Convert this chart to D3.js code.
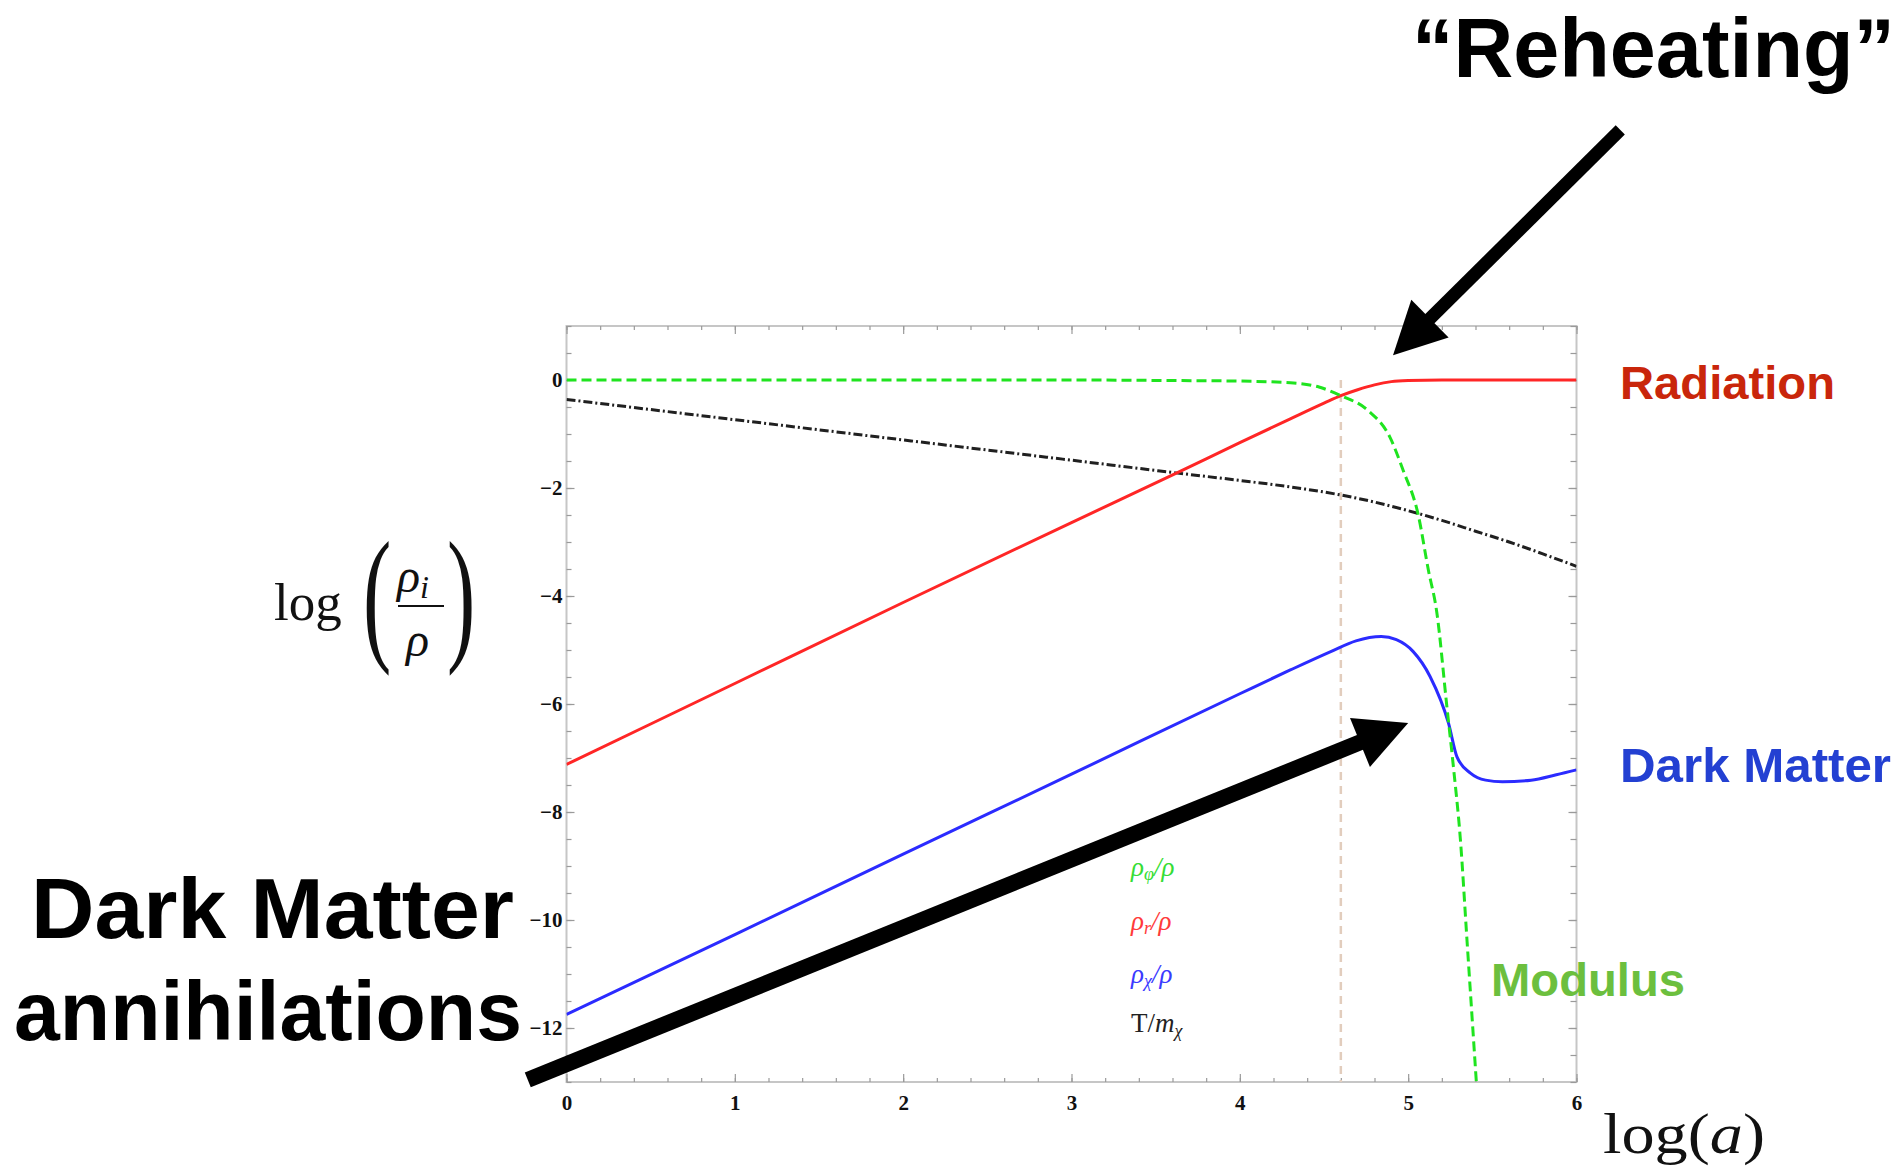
<!DOCTYPE html>
<html>
<head>
<meta charset="utf-8">
<script src="https://cdn.jsdelivr.net/npm/d3@7"></script>
<style>
  body { margin: 0; background: #fff; }
  svg { display: block; }
</style>
</head>
<body>
<svg id="chart"></svg>
<script>
// values, [log(a), log(rho_i/rho)]
const modulus = [[0, 0], [1, 0], [2, 0], [3, 0], [3.6, -0.01], [4.0, -0.02], [4.3, -0.05], [4.47, -0.13], [4.6, -0.29], [4.76, -0.56], [4.89, -1.05], [4.97, -1.67], [5.06, -2.5], [5.12, -3.52], [5.17, -4.3], [5.23, -6.05], [5.27, -7.2], [5.31, -8.5], [5.35, -10.4], [5.405, -13]];
const radiation = [[0, -7.12], [1, -5.62], [2, -4.12], [3, -2.64], [3.62, -1.73], [4, -1.16], [4.3, -0.72], [4.5, -0.43], [4.6, -0.29], [4.7, -0.18], [4.8, -0.09], [4.9, -0.03], [5.0, -0.01], [5.2, 0], [6, 0]];
const darkMatter = [[0, -11.75], [1, -10.27], [2, -8.78], [3, -7.3], [4, -5.81], [4.3, -5.37], [4.54, -5.03], [4.69, -4.83], [4.84, -4.75], [4.93, -4.81], [5.03, -5.03], [5.13, -5.49], [5.24, -6.36], [5.29, -6.98], [5.37, -7.28], [5.46, -7.41], [5.56, -7.44], [5.73, -7.41], [5.88, -7.31], [6, -7.22]];
const temperature = [[0, -0.36], [1, -0.735], [2, -1.11], [3, -1.485], [3.62, -1.72], [4, -1.86], [4.3, -1.98], [4.6, -2.13], [4.8, -2.26], [5.0, -2.42], [5.2, -2.6], [5.4, -2.8], [5.6, -3.0], [5.8, -3.22], [6, -3.45]];
const reheatLogA = 4.6;

const xTicks = [0, 1, 2, 3, 4, 5, 6];
const yTicks = [0, -2, -4, -6, -8, -10, -12];

// arrows, in data units: [log(a), log(rho_i/rho)]
const arrowFrom = [[6.26, 4.63], [-0.23, -12.96]];
const arrowTo = [[4.91, 0.46], [5.0, -6.35]];

const W = 1902, H = 1172;
const svg = d3.select("#chart").attr("width", W).attr("height", H);
svg.append("rect").attr("width", W).attr("height", H).attr("fill", "#fff");

const x = d3.scaleLinear().domain([0, 6]).range([566.5, 1576.5]);
const y = d3.scaleLinear().domain([1, -13]).range([326, 1082]);

svg.append("clipPath").attr("id", "plot")
    .append("rect")
    .attr("x", x(0)).attr("y", y(1))
    .attr("width", x(6) - x(0)).attr("height", y(-13) - y(1));

// frame
svg.append("rect")
    .attr("x", x(0)).attr("y", y(1))
    .attr("width", x(6) - x(0)).attr("height", y(-13) - y(1))
    .attr("fill", "none")
    .attr("stroke", "#c6c6c6")
    .attr("stroke-width", 2);

function styleAxis(g) {
    g.select(".domain").remove();
    g.selectAll("line").attr("stroke", "#9a9a9a").attr("stroke-width", 1.2);
    g.selectAll("text")
        .attr("fill", "#111")
        .style("font-family", "'Liberation Serif', serif")
        .style("font-weight", "bold")
        .style("font-size", "21px");
}

const xMinor = d3.range(0, 6.001, 0.2);
const yMinor = d3.range(-13, 1.001, 0.5);

svg.append("g").attr("transform", `translate(0,${y(-13)})`)
    .call(d3.axisBottom(x).tickValues(xMinor).tickSize(-4).tickFormat(""))
    .call(styleAxis);
svg.append("g").attr("transform", `translate(0,${y(-13)})`)
    .call(d3.axisBottom(x).tickValues(xTicks).tickSize(-8).tickPadding(13).tickFormat(d3.format("d")))
    .call(styleAxis);
svg.append("g").attr("transform", `translate(0,${y(1)})`)
    .call(d3.axisTop(x).tickValues(xMinor).tickSize(-4).tickFormat(""))
    .call(styleAxis);
svg.append("g").attr("transform", `translate(0,${y(1)})`)
    .call(d3.axisTop(x).tickValues(xTicks).tickSize(-8).tickFormat(""))
    .call(styleAxis);

svg.append("g").attr("transform", `translate(${x(0)},0)`)
    .call(d3.axisLeft(y).tickValues(yMinor).tickSize(-5).tickFormat(""))
    .call(styleAxis);
svg.append("g").attr("transform", `translate(${x(0)},0)`)
    .call(d3.axisLeft(y).tickValues(yTicks).tickSize(-8).tickPadding(4).tickFormat(d3.format("d")))
    .call(styleAxis);
svg.append("g").attr("transform", `translate(${x(6)},0)`)
    .call(d3.axisRight(y).tickValues(yMinor).tickSize(-6).tickFormat(""))
    .call(styleAxis);
svg.append("g").attr("transform", `translate(${x(6)},0)`)
    .call(d3.axisRight(y).tickValues(yTicks).tickSize(-8).tickFormat(""))
    .call(styleAxis);

const plot = svg.append("g").attr("clip-path", "url(#plot)");

// reheating marker
plot.append("line")
    .attr("x1", x(reheatLogA)).attr("x2", x(reheatLogA))
    .attr("y1", y(0)).attr("y2", y(-13))
    .attr("stroke", "#e2cdbd")
    .attr("stroke-width", 2.5)
    .attr("stroke-dasharray", "8,6");

const line = d3.line()
    .x(d => x(d[0]))
    .y(d => y(d[1]))
    .curve(d3.curveMonotoneX);

const series = [
    { data: temperature, color: "#202020", dash: "9,3,2,3" },
    { data: radiation, color: "#ff2626", dash: null },
    { data: darkMatter, color: "#2b2bff", dash: null },
    { data: modulus, color: "#1fe41f", dash: "10,5" }
];

series.forEach(s => {
    plot.append("path")
        .datum(s.data)
        .attr("d", line)
        .attr("fill", "none")
        .attr("stroke", s.color)
        .attr("stroke-width", 3)
        .attr("stroke-dasharray", s.dash);
});

// legend inside the frame
const legendRows = [
    { base: "ρ", sub: "φ", tail: "/ρ", color: "#35dd35", italic: true },
    { base: "ρ", sub: "r", tail: "/ρ", color: "#ff3a3a", italic: true },
    { base: "ρ", sub: "χ", tail: "/ρ", color: "#3a3aff", italic: true },
    { base: "T/", sub: "χ", tail: "", color: "#222", italic: false }
];
const legendY = [876, 930, 983, 1032];

legendRows.forEach((r, i) => {
    const t = svg.append("text")
        .attr("x", 1131)
        .attr("y", legendY[i])
        .attr("fill", r.color)
        .style("font-family", "'Liberation Serif', serif")
        .style("font-size", "27px");
    if (r.italic) {
        t.append("tspan").style("font-style", "italic").text(r.base);
        t.append("tspan").style("font-style", "italic").style("font-size", "18px").attr("dy", 4).text(r.sub);
        t.append("tspan").style("font-style", "italic").attr("dy", -4).text(r.tail);
    } else {
        t.append("tspan").text(r.base);
        t.append("tspan").style("font-style", "italic").text("m");
        t.append("tspan").style("font-style", "italic").style("font-size", "18px").attr("dy", 5).text(r.sub);
    }
});

// axis titles
const serif = "'Liberation Serif', serif";
const xt = svg.append("text")
    .attr("x", 1603).attr("y", 1153)
    .attr("textLength", 162)
    .attr("lengthAdjust", "spacingAndGlyphs")
    .style("font-family", serif)
    .style("font-size", "58px")
    .attr("fill", "#111");
xt.append("tspan").text("log(");
xt.append("tspan").style("font-style", "italic").text("a");
xt.append("tspan").text(")");

const yl = svg.append("g").attr("fill", "#111").style("font-family", serif);
yl.append("text").attr("x", 274).attr("y", 620).style("font-size", "53px").text("log");
yl.append("text")
    .attr("transform", "translate(363,643.6) scale(1,1.75)")
    .style("font-size", "85px").text("(");
yl.append("text")
    .attr("transform", "translate(447,643.6) scale(1,1.75)")
    .style("font-size", "85px").text(")");
const num = yl.append("text").attr("x", 397).attr("y", 592).style("font-size", "48px").style("font-style", "italic");
num.append("tspan").text("ρ");
num.append("tspan").attr("dy", 6).style("font-size", "32px").text("i");
yl.append("line")
    .attr("x1", 398).attr("x2", 444).attr("y1", 606).attr("y2", 606)
    .attr("stroke", "#111").attr("stroke-width", 2);
yl.append("text").attr("x", 406).attr("y", 656).style("font-size", "48px").style("font-style", "italic").text("ρ");

// annotations
const sans = "'Liberation Sans', Arial, sans-serif";
const notes = [
    { text: "“Reheating”", x: 1412, y: 77, size: 83, len: 483, color: "#000" },
    { text: "Radiation", x: 1620, y: 399, size: 47, len: 215, color: "#c9260b" },
    { text: "Dark Matter", x: 1620, y: 782, size: 48, len: 271, color: "#2340d2" },
    { text: "Modulus", x: 1491, y: 996, size: 47, len: 194, color: "#6cbf3e" },
    { text: "Dark Matter", x: 31, y: 938, size: 86, len: 483, color: "#000" },
    { text: "annihilations", x: 14, y: 1040, size: 83, len: 508, color: "#000" }
];
notes.forEach(n => {
    svg.append("text")
        .attr("x", n.x).attr("y", n.y)
        .attr("textLength", n.len)
        .attr("lengthAdjust", "spacingAndGlyphs")
        .attr("fill", n.color)
        .style("font-family", sans)
        .style("font-weight", "bold")
        .style("font-size", n.size + "px")
        .text(n.text);
});

// arrows
const shaftWidth = [13, 16];
arrowFrom.forEach((f, i) => {
    const x0 = x(f[0]), y0 = y(f[1]);
    const x1 = x(arrowTo[i][0]), y1 = y(arrowTo[i][1]);
    const len = Math.hypot(x1 - x0, y1 - y0);
    const ux = (x1 - x0) / len, uy = (y1 - y0) / len;
    const headLen = 52, headHalf = 26.5;
    const bx = x1 - ux * headLen, by = y1 - uy * headLen;

    svg.append("line")
        .attr("x1", x0).attr("y1", y0)
        .attr("x2", bx + ux * 4).attr("y2", by + uy * 4)
        .attr("stroke", "#000")
        .attr("stroke-width", shaftWidth[i]);

    svg.append("path")
        .attr("d", `M${x1},${y1}L${bx - uy * headHalf},${by + ux * headHalf}L${bx + uy * headHalf},${by - ux * headHalf}Z`)
        .attr("fill", "#000");
});
</script>
</body>
</html>
